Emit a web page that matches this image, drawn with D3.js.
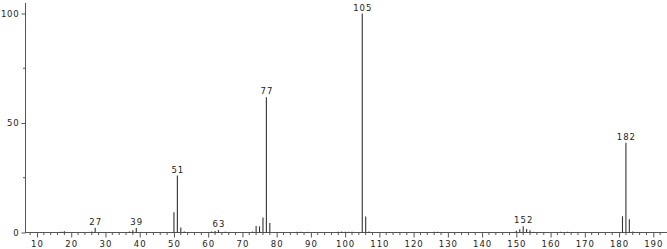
<!DOCTYPE html>
<html><head><meta charset="utf-8">
<script src="https://cdn.jsdelivr.net/npm/d3@7"></script>
<style>
html,body{margin:0;padding:0;background:#fff;}
svg{display:block;}
text{font-family:"DejaVu Sans",sans-serif;font-size:8.5px;fill:#222;}
</style></head><body>
<svg id="c" width="667" height="249"></svg>
<script>
const mz = [17,18,26,27,37,38,39,50,51,52,53,61,62,63,65,73,74,75,76,77,78,86,87,89,98,99,100,101,102,105,106,107,113,115,126,127,150,151,152,153,154,155,163,165,181,182,183,184];
const intensity = [0.3,0.6,0.5,2.2,0.5,1.0,2.0,9.3,26.0,2.3,0.5,0.5,0.7,1.1,0.3,0.5,3.0,2.8,6.9,61.8,4.3,0.3,0.3,0.3,0.3,0.4,0.3,0.3,0.3,100,7.3,0.5,0.2,0.2,0.3,0.3,0.8,1.5,2.8,1.6,1.0,0.3,0.3,0.3,7.4,41.0,6.1,0.5];
const labeled = [27,39,51,63,77,105,152,182];
const xMajor = [10,20,30,40,50,60,70,80,90,100,110,120,130,140,150,160,170,180,190];
const yMajor = [0,50,100];
const yMinor = [25,75];

const svg = d3.select("#c");
const x = d3.scaleLinear().domain([6.5,194]).range([25,667]);
const y = d3.scaleLinear().domain([0,100]).range([232.5,13.5]);
const axisColor = "#555";

// x axis line
svg.append("line").attr("x1",25).attr("x2",667).attr("y1",y(0)).attr("y2",y(0)).attr("stroke",axisColor).attr("stroke-width",1);
// y axis line
svg.append("line").attr("x1",25.5).attr("x2",25.5).attr("y1",3).attr("y2",y(0)).attr("stroke",axisColor).attr("stroke-width",1);

// x minor ticks
const xMinor = d3.range(8,194,2).filter(v=>v%10!==0);
svg.append("g").selectAll("line").data(xMinor).join("line")
  .attr("x1",d=>x(d)).attr("x2",d=>x(d)).attr("y1",y(0)).attr("y2",y(0)+2.5)
  .attr("stroke",axisColor).attr("stroke-width",1);
// x major ticks
const xAxis = d3.axisBottom(x).tickValues(xMajor).tickSize(5).tickSizeOuter(0).tickPadding(3);
const gx = svg.append("g").attr("transform",`translate(0,${y(0)})`).call(xAxis);
gx.select(".domain").remove();
gx.selectAll(".tick line").attr("stroke",axisColor);
gx.selectAll(".tick text").style("font-family","DejaVu Sans, sans-serif").style("font-size","8.5px").attr("fill","#222").style("letter-spacing","1px");

// y axis
const yAxis = d3.axisLeft(y).tickValues(yMajor).tickSize(4).tickSizeOuter(0).tickPadding(2);
const gy = svg.append("g").attr("transform","translate(25.5,0)").call(yAxis);
gy.select(".domain").remove();
gy.selectAll(".tick line").attr("stroke",axisColor);
gy.selectAll(".tick text").style("font-family","DejaVu Sans, sans-serif").style("font-size","8.5px").attr("fill","#222").style("letter-spacing","0.8px");
svg.append("g").selectAll("line").data(yMinor).join("line")
  .attr("x1",23).attr("x2",25.5).attr("y1",d=>y(d)).attr("y2",d=>y(d))
  .attr("stroke",axisColor);

// peaks
const peaks = mz.map((m,i)=>({m, v:intensity[i]}));
svg.append("g").selectAll("line").data(peaks).join("line")
  .attr("x1",d=>x(d.m)).attr("x2",d=>x(d.m))
  .attr("y1",y(0)).attr("y2",d=>y(d.v))
  .attr("stroke","#333").attr("stroke-width",1.1);

// peak labels
svg.append("g").selectAll("text").data(peaks.filter(d=>labeled.includes(d.m))).join("text")
  .attr("x",d=>x(d.m)+0.5).attr("y",d=>y(d.v)-3)
  .attr("text-anchor","middle")
  .style("letter-spacing","1px")
  .text(d=>d.m);
</script>
</body></html>
